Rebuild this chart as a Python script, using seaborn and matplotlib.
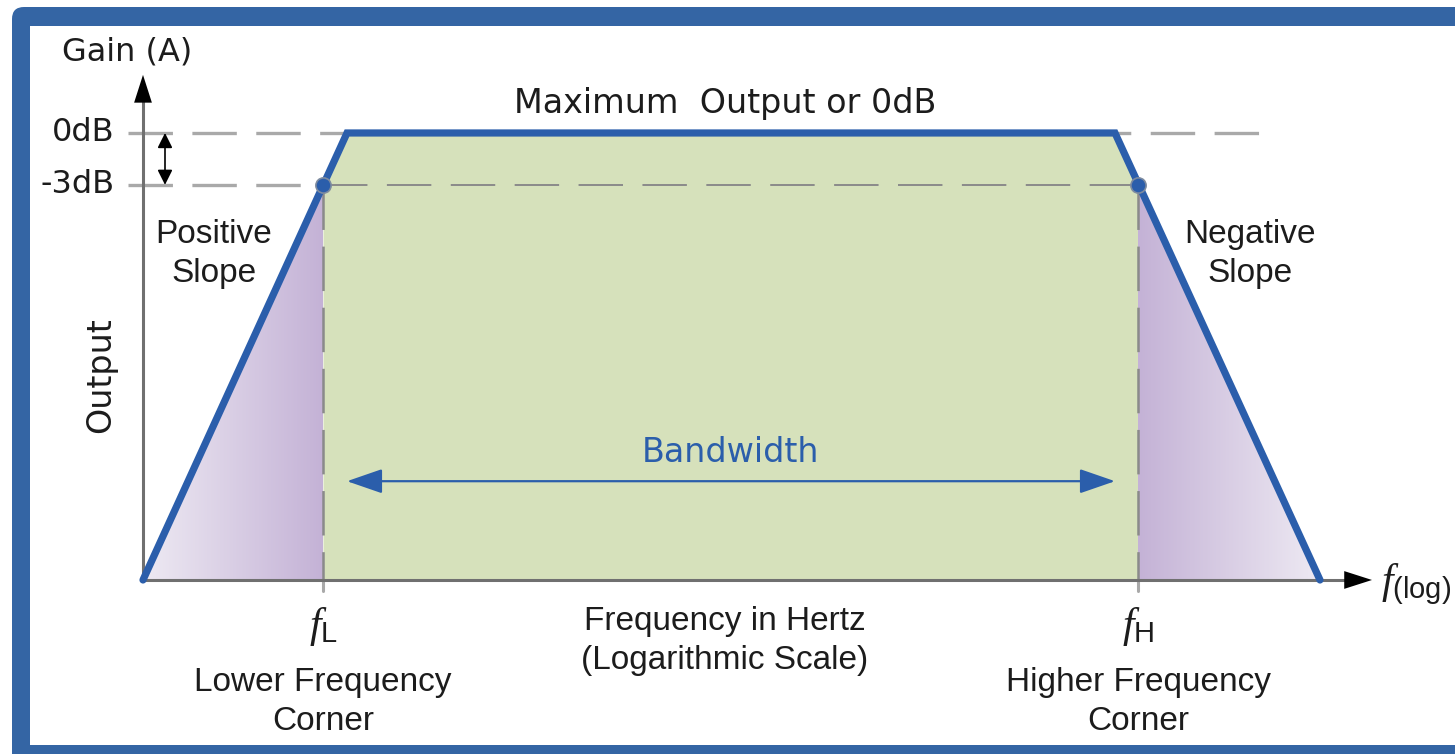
import numpy as np
import matplotlib
matplotlib.use("Agg")
import matplotlib.pyplot as plt
from matplotlib.patches import FancyBboxPatch, Rectangle, Polygon
from matplotlib.colors import LinearSegmentedColormap
import seaborn as sns

# ---------- data: x = position on log-frequency axis, y = output relative to 0dB ----------
freq = [0.0, 2.04, 9.72, 11.77]
gain = [0.0, 1.0, 1.0, 0.0]
corner_freqs = [1.80, 9.95]
corner_names = ["L", "H"]
corner_labels = ["Lower Frequency\nCorner", "Higher Frequency\nCorner"]
db_levels = [1.0, 0.884]
db_labels = ["0dB", "-3dB"]
bandwidth_y = 0.221

FRAME = "#3465a4"
BLUE = "#2b5eab"
GREEN = "#d6e1bb"
PURPLE_DARK = "#c4b2d6"
PURPLE_LIGHT = "#eeeaf3"
DASH_GRAY = "#a9a9a9"
DARK_DASH = "#8a8a8a"
AXIS_GRAY = "#707070"
TEXT = "#1c1c1c"

sns.set_theme(style="white")
plt.rcParams["font.family"] = ["DejaVu Sans"]
plt.rcParams["mathtext.fontset"] = "custom"
plt.rcParams["mathtext.rm"] = "Liberation Sans"
plt.rcParams["mathtext.it"] = "Liberation Serif:italic"
plt.rcParams["lines.scale_dashes"] = False

fig = plt.figure(figsize=(14.55, 7.54), dpi=100)

# ---------- blue frame ----------
bg = fig.add_axes([0, 0, 1, 1], zorder=0)
bg.set_xlim(0, 1455)
bg.set_ylim(754, 0)
bg.axis("off")
bg.add_patch(FancyBboxPatch((12, 7), 1500, 800, boxstyle="round,pad=0,rounding_size=12",
                            fc=FRAME, ec="none"))
bg.add_patch(Rectangle((30, 26), 1500, 719, fc="white", ec="none"))

ax = fig.add_axes([0, 0, 1, 1], zorder=1)
ax.axis("off")

f_L, f_H = corner_freqs
lvl0, lvl3 = db_levels

# ---------- pass band fill ----------
inner = [f for f in freq if f_L < f < f_H]
xg = [f_L] + inner + [f_H]
yg = np.interp(xg, freq, gain)
ax.fill_between(xg, 0, yg, color=GREEN, lw=0, zorder=1)

# ---------- roll-off gradients ----------
cmap = LinearSegmentedColormap.from_list("roll", [PURPLE_LIGHT, PURPLE_DARK])
grad = np.linspace(0, 1, 256)[None, :]
y_L = np.interp(f_L, freq, gain)
y_H = np.interp(f_H, freq, gain)
for verts, extent, g in [
    ([(freq[0], 0), (f_L, y_L), (f_L, 0)], [freq[0], f_L, 0, y_L], grad),
    ([(f_H, 0), (f_H, y_H), (freq[-1], 0)], [f_H, freq[-1], 0, y_H], grad[:, ::-1]),
]:
    im = ax.imshow(g, cmap=cmap, extent=extent, aspect="auto", origin="lower", zorder=1)
    clip = Polygon(verts, closed=True, fc="none", ec="none")
    ax.add_patch(clip)
    im.set_clip_path(clip)

# ---------- reference dashed lines ----------
ax.plot([-0.15, 11.22], [lvl0, lvl0], color=DASH_GRAY, lw=2.4, dashes=(32, 14), zorder=2)
ax.plot([-0.15, f_L], [lvl3, lvl3], color=DASH_GRAY, lw=2.4, dashes=(32, 14), zorder=2)
ax.plot([f_L, f_H], [lvl3, lvl3], color=DARK_DASH, lw=1.4, dashes=(32, 14), zorder=2)
for f in corner_freqs:
    ax.plot([f, f], [lvl3, 0], color=DARK_DASH, lw=1.8, dashes=(32, 12), zorder=2)
    ax.plot([f, f], [0, -0.024], color=DASH_GRAY, lw=2.2, zorder=2)

# ---------- axes with arrows ----------
ax.plot([0, 0], [0, 1.08], color=AXIS_GRAY, lw=2.2, zorder=3)
ax.plot([0, 12.02], [0, 0], color=AXIS_GRAY, lw=2.2, zorder=3)
head = dict(arrowstyle="-|>,head_length=1.0,head_width=0.32", mutation_scale=20,
            color="black", lw=0, shrinkA=0, shrinkB=0)
ax.annotate("", xy=(0, 1.13), xytext=(0, 1.05), arrowprops=head, zorder=3)
ax.annotate("", xy=(12.29, 0), xytext=(12.0, 0), arrowprops=head, zorder=3)

# 3dB step marker
ax.annotate("", xy=(0.22, lvl0), xytext=(0.22, lvl3),
            arrowprops=dict(arrowstyle="<|-|>,head_length=0.6,head_width=0.3",
                            mutation_scale=15, color="black", lw=1.2, shrinkA=0, shrinkB=0))

# bandwidth arrow
ax.annotate("", xy=(freq[2], bandwidth_y), xytext=(freq[1], bandwidth_y),
            arrowprops=dict(arrowstyle="<|-|>,head_length=1.1,head_width=0.38",
                            mutation_scale=20, color=BLUE, lw=1.6, shrinkA=0, shrinkB=0),
            zorder=3)

# ---------- response curve ----------
sns.lineplot(x=freq, y=gain, sort=False, estimator=None, color=BLUE, lw=5.2, ax=ax, zorder=4)
ax.lines[-1].set_solid_capstyle("round")
ax.lines[-1].set_solid_joinstyle("miter")
sns.scatterplot(x=corner_freqs, y=[lvl3] * len(corner_freqs), s=120, color=BLUE,
                edgecolor="#7d8ba0", linewidth=1.2, zorder=5, ax=ax)

# ---------- text ----------
ax.text(-0.81, 1.181, "Gain (A)", fontsize=23, color=TEXT, ha="left", va="center")
for lvl, lab in zip(db_levels, db_labels):
    ax.text(-0.28, lvl, lab, fontsize=23, color=TEXT, ha="right", va="center")
ax.text(5.82, 1.067, "Maximum  Output or 0dB", fontsize=24, color=TEXT, ha="center", va="center")
ax.text(-0.42, 0.459, "Output", fontsize=24, color=TEXT, ha="center", va="center", rotation=90)
ax.text(5.87, 0.286, "Bandwidth", fontsize=24, color=BLUE, ha="center", va="center")

sans = ["Liberation Sans", "DejaVu Sans"]
ax.text(0.71, 0.729, "Positive\nSlope", fontsize=24, color=TEXT, ha="center", va="center",
        family=sans, linespacing=1.35)
ax.text(11.07, 0.729, "Negative\nSlope", fontsize=24, color=TEXT, ha="center", va="center",
        family=sans, linespacing=1.35)
ax.text(5.82, -0.136, "Frequency in Hertz\n(Logarithmic Scale)", fontsize=24, color=TEXT,
        ha="center", va="center", family=sans, linespacing=1.35)
for f, name, lab in zip(corner_freqs, corner_names, corner_labels):
    ax.text(f, -0.105, r"$f_{\mathrm{%s}}$" % name, fontsize=30, color=TEXT,
            ha="center", va="center")
    ax.text(f, -0.273, lab, fontsize=24, color=TEXT, ha="center", va="center",
            family=sans, linespacing=1.35)
ax.text(12.38, -0.01, r"$f_{\mathrm{(log)}}$", fontsize=30, color=TEXT, ha="left", va="center")

ax.set_xlim(-1.43, 13.12)
ax.set_ylim(-0.3893, 1.2975)

fig.savefig("out.png", dpi=100)
